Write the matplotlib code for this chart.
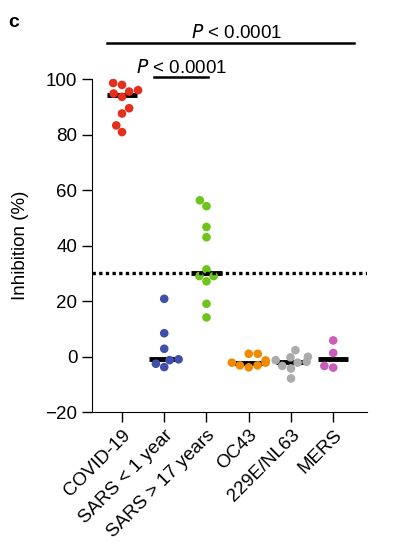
import numpy as np
import pandas as pd
import matplotlib
matplotlib.use("Agg")
import matplotlib.pyplot as plt
import seaborn as sns

# values
groups = ["COVID-19", "SARS < 1 year", "SARS > 17 years", "OC43", "229E/NL63", "MERS"]
covid = [98.6, 97.9, 96.0, 95.5, 94.8, 93.6, 89.5, 87.6, 83.3, 80.9]
sars_recent = [20.8, 8.4, 2.8, -1.0, -1.3, -2.6, -3.8]
sars_old = [56.3, 54.2, 46.7, 43.0, 31.4, 29.0, 29.0, 27.1, 19.0, 14.1]
oc43 = [1.0, 1.0, -1.4, -2.2, -2.2, -3.2, -3.2, -3.9]
nl63 = [2.3, -0.1, -0.3, -1.3, -1.9, -2.2, -3.4, -4.3, -7.9]
mers = [5.8, 1.3, -3.4, -4.0]
colors = ["#E3301C", "#3F4FAA", "#6DC41A", "#F08A00", "#ABABAB", "#C95EBA"]
cutoff = 30
yticks = [-20, 0, 20, 40, 60, 80, 100]

all_vals = [covid, sars_recent, sars_old, oc43, nl63, mers]
df = pd.DataFrame({
    "group": [g for g, v in zip(groups, all_vals) for _ in v],
    "value": [x for v in all_vals for x in v],
})

plt.rcParams["font.family"] = ["Liberation Sans", "DejaVu Sans"]

fig = plt.figure(figsize=(3.94, 5.57), dpi=100)
ax = fig.add_axes([0.2335, 0.2603, 0.698, 0.5977])

# median bars
for i, v in enumerate(all_vals):
    ax.hlines(np.median(v), i - 0.36, i + 0.36, color="black", lw=3.5, zorder=2)

sns.swarmplot(data=df, x="group", y="value", order=groups, hue="group",
              palette=colors, size=6.2, ax=ax, legend=False, zorder=3)

ax.axhline(cutoff, color="black", lw=2.4, ls=(0, (1, 1)), zorder=4)

ax.set_xlim(-0.71, 5.8)
ax.set_ylim(-20, 100)
ax.set_yticks(yticks)
ax.set_xlabel("")
ax.set_ylabel("Inhibition (%)", fontsize=13.5, labelpad=12)
ax.spines["top"].set_visible(False)
ax.spines["right"].set_visible(False)
ax.tick_params(axis="both", length=7, width=1, labelsize=13.5, color="black")
ax.set_xticks(range(len(groups)))
ax.set_xticklabels(groups, rotation=45, ha="right", rotation_mode="anchor")

# significance brackets
ax.plot([-0.36, 5.5], [113, 113], color="black", lw=1.8, clip_on=False)
ax.text(2.72, 113.4, r"$P$ < 0.0001", ha="center", va="bottom", fontsize=13.5)
ax.plot([0.76, 2.04], [100.7, 100.7], color="black", lw=1.8, clip_on=False)
ax.text(1.4, 100.6, r"$P$ < 0.0001", ha="center", va="bottom", fontsize=13.5)

fig.text(0.02, 0.975, "c", fontsize=14, fontweight="bold", va="top")

fig.savefig("out.png", dpi=100)
